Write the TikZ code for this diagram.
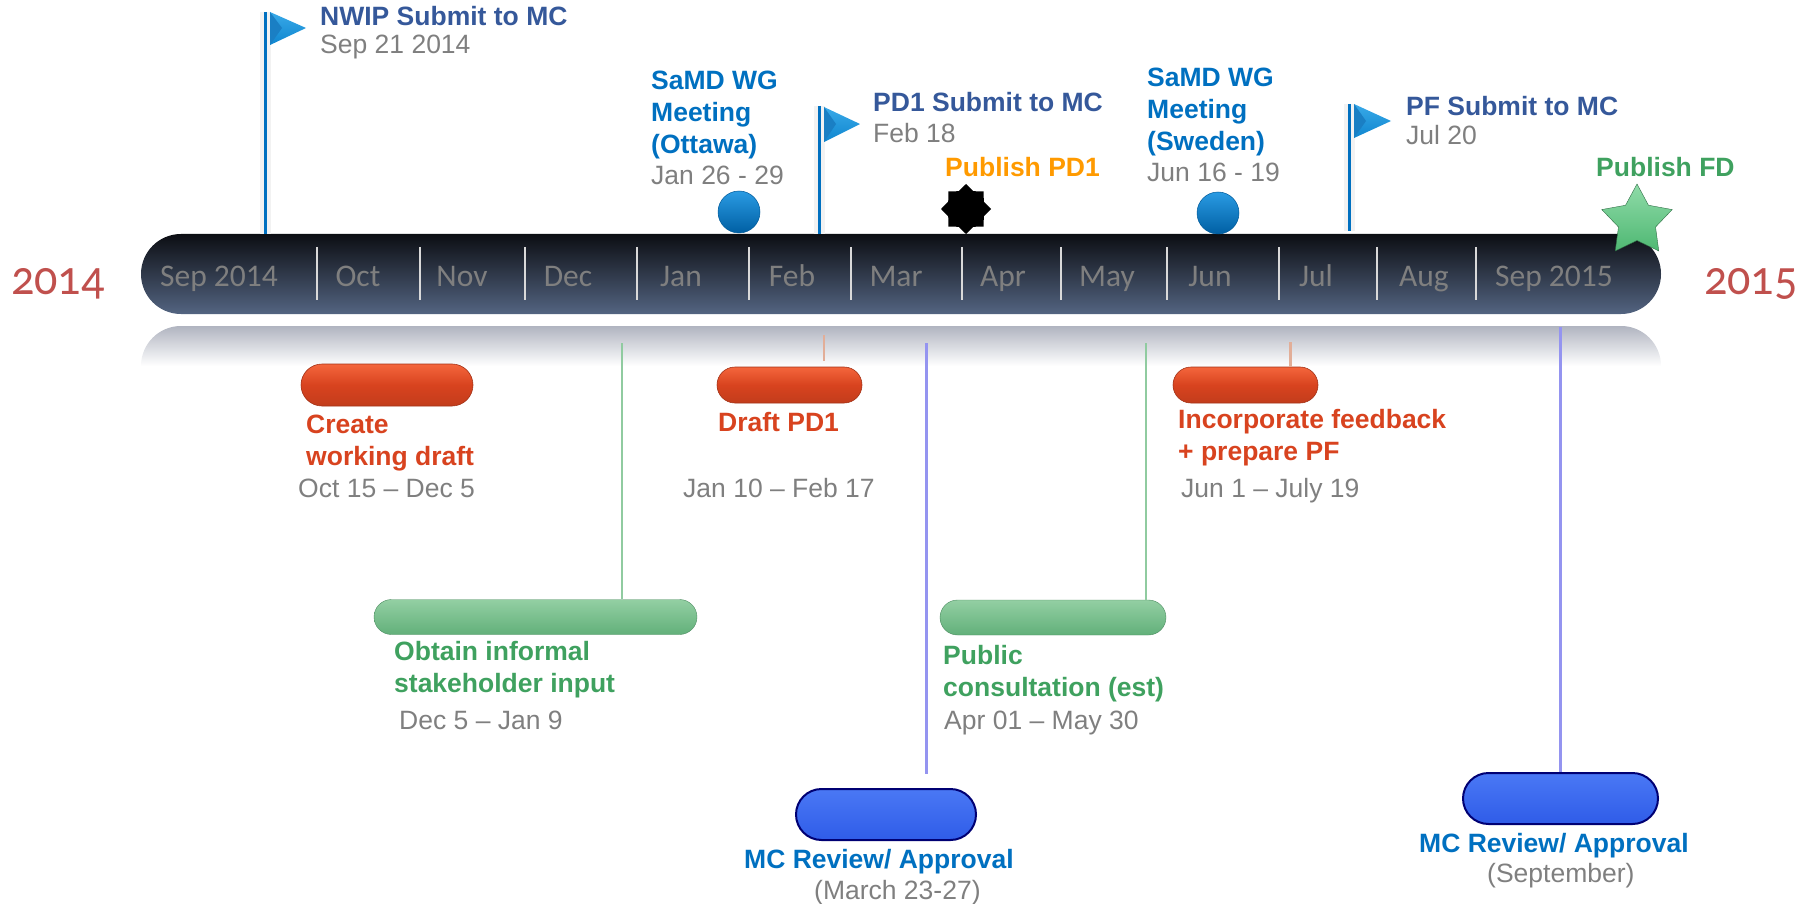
\documentclass[tikz,border=0pt]{standalone}
\usepackage{fontspec}
\setmainfont{Liberation Sans}
\newfontfamily\monthfont{Carlito}
\newfontfamily\yearfont[Numbers=OldStyle,FakeStretch=.94]{Carlito}
\usetikzlibrary{shapes.geometric,shapes.misc}
\definecolor{darktitle}{HTML}{35589A}
\definecolor{wgblue}{HTML}{0070C0}
\definecolor{datagrey}{HTML}{7F7F7F}
\definecolor{taskred}{HTML}{D8431F}
\definecolor{taskgreen}{HTML}{3FA15F}
\definecolor{yearred}{HTML}{C0504D}
\definecolor{pubgold}{HTML}{FF9A00}
\definecolor{redtop}{HTML}{F4663C}
\definecolor{greentop}{HTML}{93CFA3}
\definecolor{greenbot}{HTML}{62B07A}
\definecolor{bluetop}{HTML}{4A78F5}
\definecolor{bluemid}{HTML}{2F5CE8}
\definecolor{balltop}{HTML}{2A9BE3}
\definecolor{flagtop}{HTML}{39A9E8}
\definecolor{flagbot}{HTML}{0F86CF}
\definecolor{flagfacet}{HTML}{1A7FC4}
\definecolor{startop}{HTML}{8FDBA8}
\definecolor{starbot}{HTML}{4FB873}
\definecolor{redlinkc}{HTML}{E2AE98}
\definecolor{greenlinkc}{HTML}{90CBA0}
\definecolor{bluelinkc}{HTML}{9494F0}
\definecolor{bartop}{HTML}{0C0E13}
\definecolor{barbot}{HTML}{536481}
\definecolor{mirror}{HTML}{B0B4C0}
\begin{document}
\begin{tikzpicture}[x=1pt,y=-1pt]

      \useasboundingbox (0,0) rectangle (1810,904);

      \tikzset{
        txt/.style={anchor=base west, inner sep=0pt, align=left, font=\fontsize{26.5}{32}\selectfont},
        bold/.style={txt, font=\fontsize{26.5}{32}\selectfont\bfseries},
        datelabel/.style={txt, text=datagrey},
        pill/.style={rounded rectangle, inner sep=0pt, minimum width=#1},
        redpill/.style={pill=#1, minimum height=42pt, draw=taskred!75!black, line width=.6pt,
          top color=redtop, bottom color=taskred!90!black, middle color=taskred},
        greenpill/.style={pill=#1, minimum height=35pt, draw=greenbot!80!black, line width=.4pt,
          top color=greentop, bottom color=greenbot},
        bluepill/.style={pill=#1, draw=blue!45!black, line width=2pt,
          top color=bluetop, bottom color=bluemid},
        pole/.style={draw=wgblue, line width=3.5pt, preaction={draw=black!5, line width=11pt}},
        redlink/.style={draw=redlinkc, line width=2.5pt},
        greenlink/.style={draw=greenlinkc, line width=2.5pt},
        bluelink/.style={draw=bluelinkc, line width=3pt},
        monthtick/.style={draw=black!15, line width=2pt},
        ball/.style={circle, minimum size=42pt, inner sep=0pt, draw=wgblue!80!black, line width=.5pt,
          top color=balltop, bottom color=wgblue!85!black},
        flagface/.style={top color=flagtop, bottom color=flagbot, draw=none}
      }

      % reflection under the bar
      \shade[top color=mirror, bottom color=white, rounded corners=40pt]
        (141,366) -- (141,326) -- (1661,326) [sharp corners] -- (1661,366) -- cycle;

      % bar
      \node[rounded rectangle, minimum width=1520pt, minimum height=80pt, inner sep=0pt,
        top color=bartop, bottom color=barbot, draw=none] (bar) at (901,274) {};

      \begin{scope}[every node/.style={font=\monthfont\fontsize{31.5}{36}\selectfont, text=datagrey, anchor=base}]
        \node (sep14) at (219,287) {Sep 2014};
        \node (oct)   at (358,287) {Oct};
        \node (nov)   at (462,287) {Nov};
        \node (dec)   at (568,287) {Dec};
        \node (jan)   at (681,287) {Jan};
        \node (feb)   at (792,287) {Feb};
        \node (mar)   at (896,287) {Mar};
        \node (apr)   at (1003,287) {Apr};
        \node (may)   at (1107,287) {May};
        \node (jun)   at (1210,287) {Jun};
        \node (jul)   at (1316,287) {Jul};
        \node (aug)   at (1424,287) {Aug};
        \node (sep15) at (1554,287) {Sep 2015};
      \end{scope}

      \draw[monthtick] (317,247) -- (317,300);
      \draw[monthtick] (420,247) -- (420,300);
      \draw[monthtick] (525,247) -- (525,300);
      \draw[monthtick] (637,247) -- (637,300);
      \draw[monthtick] (749,247) -- (749,300);
      \draw[monthtick] (851,247) -- (851,300);
      \draw[monthtick] (962,247) -- (962,300);
      \draw[monthtick] (1061,247) -- (1061,300);
      \draw[monthtick] (1167,247) -- (1167,300);
      \draw[monthtick] (1279,247) -- (1279,300);
      \draw[monthtick] (1377,247) -- (1377,300);
      \draw[monthtick] (1476,247) -- (1476,300);

      % years
      \begin{scope}[every node/.style={font=\yearfont\fontsize{49}{52}\selectfont, text=yearred, anchor=base west, inner sep=0pt}]
        \node (y14) at (11,294) {2014};
        \node (y15) at (1704,294) {2015};
      \end{scope}

      % flags
      \coordinate (pole1) at (265.5,12);
      \coordinate (pole2) at (819.5,106);
      \coordinate (pole3) at (1349.5,104);
      \path[pole] (pole1) -- (pole1 |- bar.north);
      \path[pole] (pole2) -- (pole2 |- bar.north);
      \path[pole] (pole3) -- (pole3 |- 0,231);
      \shade[flagface] (270,12) -- (306,28) -- (270,45) -- cycle;
      \shade[flagface] (824,107) -- (860,124) -- (824,142) -- cycle;
      \shade[flagface] (1354,104) -- (1391,121) -- (1354,138) -- cycle;
      \fill[flagfacet] (270,12) -- (282,28) -- (270,45) -- cycle;
      \fill[flagfacet] (824,107) -- (836,124) -- (824,142) -- cycle;
      \fill[flagfacet] (1354,104) -- (1366,121) -- (1354,138) -- cycle;

      % milestones above the bar
      \node[bold, text=darktitle] (nwip) at (320,26) {NWIP Submit to MC};
      \node[datelabel] (nwipdate) at (320,54) {Sep 21 2014};

      \node[bold, text=wgblue] (ottawa) at (651,154) {SaMD WG\\Meeting\\(Ottawa)};
      \node[datelabel] (ottawadate) at (651,185) {Jan 26 - 29};
      \node[ball] (ottawaball) at (739,212) {};

      \node[bold, text=darktitle] (pd1) at (873,112) {PD1 Submit to MC};
      \node[datelabel] (pd1date) at (873,143) {Feb 18};

      \node[bold, text=pubgold] (pubpd1) at (945,177) {Publish PD1};
      \node[star, star points=8, star point ratio=1.3, minimum size=50pt, inner sep=0pt,
        fill=black, draw=none] (pubstar) at (966,209) {};

      \node[bold, text=wgblue] (sweden) at (1147,151) {SaMD WG\\Meeting\\(Sweden)};
      \node[datelabel] (swedendate) at (1147,182) {Jun 16 - 19};
      \node[ball] (swedenball) at (1218,213) {};

      \node[bold, text=darktitle] (pf) at (1406,116) {PF Submit to MC};
      \node[datelabel] (pfdate) at (1406,145) {Jul 20};

      \node[bold, text=taskgreen] (pubfd) at (1596,177) {Publish FD};
      \node[star, star points=5, star point ratio=1.9, minimum size=74pt, inner sep=0pt,
        top color=startop, bottom color=starbot, draw=starbot!60!black, line width=.4pt] (fdstar) at (1637,221) {};

      % tasks below the bar
      \node[redpill=172pt] (draft) at (387,385) {};
      \node[redpill=145pt, minimum height=36pt] (draftpd1) at (789.5,385) {};
      \node[redpill=145pt, minimum height=36pt] (feedback) at (1245.5,385) {};

      \node[greenpill=323pt] (informal) at (535.5,617) {};
      \node[greenpill=226pt] (consult) at (1053,617.5) {};

      \node[bluepill=180pt, minimum height=51pt] (review1) at (886,814.5) {};
      \node[bluepill=195pt, minimum height=51pt] (review2) at (1560.5,798.5) {};

      \coordinate (linkpd1) at (824,335);
      \coordinate (linkfb) at (1290.5,342);
      \coordinate (linkinf) at (622,343);
      \coordinate (linkcon) at (1146,343);
      \coordinate (linkrev1) at (926,343);
      \coordinate (linkrev2) at (1560.5,327);

      \draw[redlink, shorten >=6pt] (linkpd1) -- (linkpd1 |- draftpd1.north);
      \draw[redlink] (linkfb) -- (linkfb |- feedback.north);
      \draw[greenlink] (linkinf) -- (linkinf |- informal.north);
      \draw[greenlink] (linkcon) -- (linkcon |- consult.north);
      \draw[bluelink, shorten >=14pt] (linkrev1) -- (linkrev1 |- review1.north);
      \draw[bluelink] (linkrev2) -- (review2.north);

      \node[bold, text=taskred] (drafttxt) at (306,465) {Create\\working draft};
      \node[datelabel] (draftdate) at (298,497) {Oct 15 – Dec 5};

      \node[bold, text=taskred] (pd1txt) at (718,431) {Draft PD1};
      \node[datelabel] (pd1draftdate) at (683,497) {Jan 10 – Feb 17};

      \node[bold, text=taskred] (fbtxt) at (1178,460) {Incorporate feedback\\+ prepare PF};
      \node[datelabel] (fbdate) at (1181,497) {Jun 1 – July 19};

      \node[bold, text=taskgreen] (inftxt) at (394,692) {Obtain informal\\stakeholder input};
      \node[datelabel] (infdate) at (399,729) {Dec 5 – Jan 9};

      \node[bold, text=taskgreen] (contxt) at (943,696) {Public\\consultation (est)};
      \node[datelabel] (condate) at (944,729) {Apr 01 – May 30};

      \node[bold, text=wgblue] (rev1txt) at (744,868) {MC Review/ Approval};
      \node[datelabel] (rev1date) at (814,899) {(March 23-27)};

      \node[bold, text=wgblue] (rev2txt) at (1419,852) {MC Review/ Approval};
      \node[datelabel] (rev2date) at (1487,882) {(September)};

    \end{tikzpicture}
\end{document}
